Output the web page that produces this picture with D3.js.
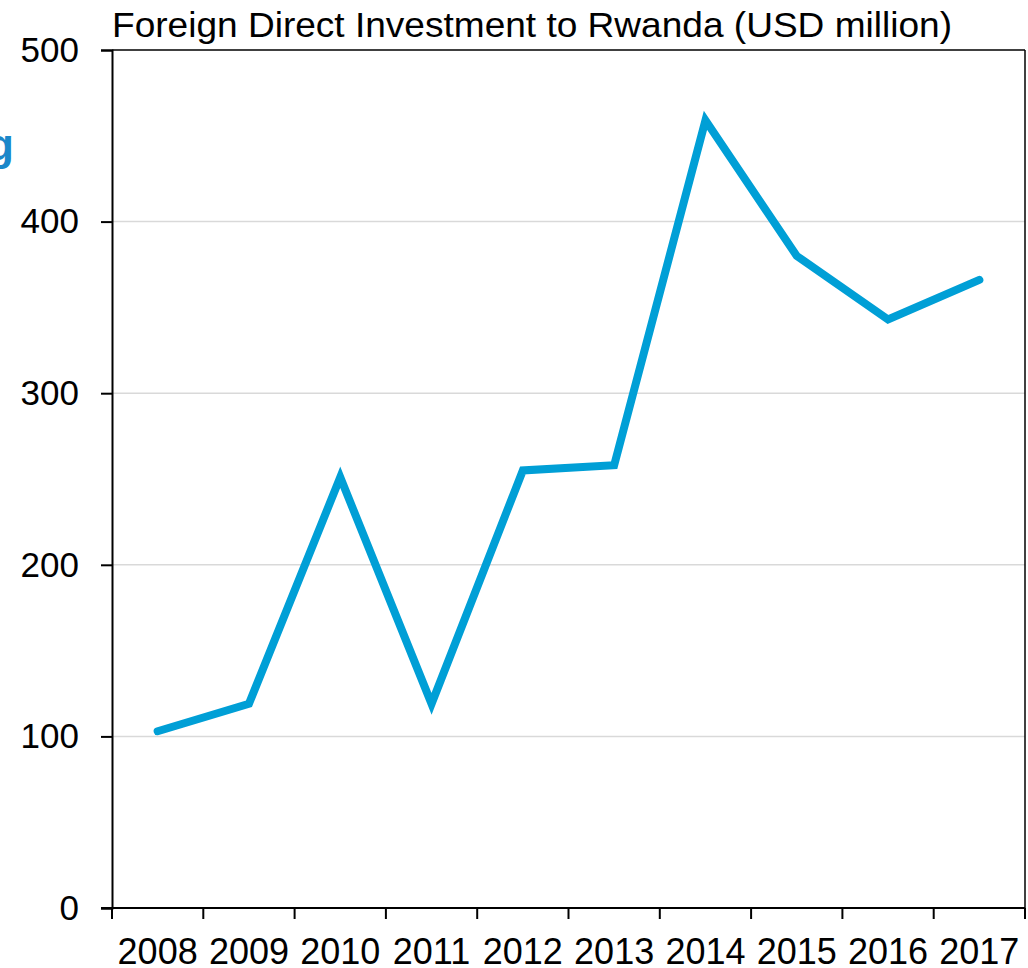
<!DOCTYPE html>
<html>
<head>
<meta charset="utf-8">
<script src="https://cdn.jsdelivr.net/npm/d3@7"></script>
<style>
  body { margin: 0; background: #fff; }
  svg { display: block; font-family: "Liberation Sans", Arial, sans-serif; }
</style>
</head>
<body>
<div id="chart"></div>
<script>
// data
const years = ["2008", "2009", "2010", "2011", "2012", "2013", "2014", "2015", "2016", "2017"];
const fdi_values = [103, 119, 251, 119, 255, 258, 459, 380, 343, 366];
const y_ticks = [0, 100, 200, 300, 400, 500];
const chart_title = "Foreign Direct Investment to Rwanda (USD million)";

const width = 1028, height = 968;
const margin = {top: 50, right: 3, bottom: 60, left: 112};

let svg = d3.select("#chart")
    .append("svg")
    .attr("width", width)
    .attr("height", height);

let xScale = d3.scaleBand()
    .domain(years)
    .range([margin.left, width - margin.right]);

let yScale = d3.scaleLinear()
    .domain([0, 500])
    .range([height - margin.bottom, margin.top]);

// clipped fragment of neighbouring heading
svg.append("text")
    .attr("x", 14)
    .attr("y", 160)
    .attr("text-anchor", "end")
    .attr("font-size", "44px")
    .attr("font-weight", "bold")
    .attr("fill", "#1b87c9")
    .text("g");

// gridlines
svg.append("g")
    .selectAll("line")
    .data(y_ticks.filter(d => d > 0 && d < 500))
    .enter()
    .append("line")
    .attr("x1", margin.left)
    .attr("x2", width - margin.right)
    .attr("y1", d => yScale(d))
    .attr("y2", d => yScale(d))
    .attr("stroke", "#d9d9d9")
    .attr("stroke-width", 1.5);

// frame (top and right)
svg.append("line")
    .attr("x1", margin.left).attr("x2", width - margin.right)
    .attr("y1", yScale(500)).attr("y2", yScale(500))
    .attr("stroke", "#000").attr("stroke-width", 1.5);
svg.append("line")
    .attr("x1", width - margin.right).attr("x2", width - margin.right)
    .attr("y1", yScale(500)).attr("y2", yScale(0))
    .attr("stroke", "#000").attr("stroke-width", 1.5);

// y axis
let yAxis = svg.append("g")
    .attr("transform", "translate(" + margin.left + ",0)")
    .call(d3.axisLeft(yScale).tickValues(y_ticks).tickSize(11).tickPadding(22));
yAxis.select(".domain").attr("stroke-width", 2);
yAxis.selectAll(".tick line").attr("stroke-width", 2);
yAxis.selectAll("text")
    .attr("font-size", "35px")
    .attr("font-family", "Liberation Sans, Arial, sans-serif")
    .attr("fill", "#000");

// x axis: ticks on band edges
let xAxis = svg.append("g")
    .attr("transform", "translate(0," + yScale(0) + ")");
xAxis.append("line")
    .attr("x1", margin.left - 11).attr("x2", width - margin.right)
    .attr("y1", 0).attr("y2", 0)
    .attr("stroke", "#000").attr("stroke-width", 2);
let edges = years.map(d => xScale(d)).concat([xScale.range()[1]]);
xAxis.selectAll(".edge_tick")
    .data(edges)
    .enter()
    .append("line")
    .attr("class", "edge_tick")
    .attr("x1", d => d).attr("x2", d => d)
    .attr("y1", 0).attr("y2", 11)
    .attr("stroke", "#000").attr("stroke-width", 2);
xAxis.selectAll("text")
    .data(years)
    .enter()
    .append("text")
    .attr("x", d => xScale(d) + xScale.bandwidth() / 2)
    .attr("y", 56)
    .attr("text-anchor", "middle")
    .attr("font-size", "36px")
    .attr("fill", "#000")
    .text(d => d);

// the line
let line = d3.line()
    .x((d, i) => xScale(years[i]) + xScale.bandwidth() / 2)
    .y(d => yScale(d));

svg.append("path")
    .datum(fdi_values)
    .attr("d", line)
    .attr("fill", "none")
    .attr("stroke", "#009fd6")
    .attr("stroke-width", 8)
    .attr("stroke-linecap", "round")
    .attr("stroke-linejoin", "miter");

// title
svg.append("text")
    .attr("x", margin.left)
    .attr("y", 37)
    .attr("font-size", "35px")
    .attr("textLength", 840)
    .attr("lengthAdjust", "spacingAndGlyphs")
    .attr("fill", "#000")
    .text(chart_title);
</script>
</body>
</html>
